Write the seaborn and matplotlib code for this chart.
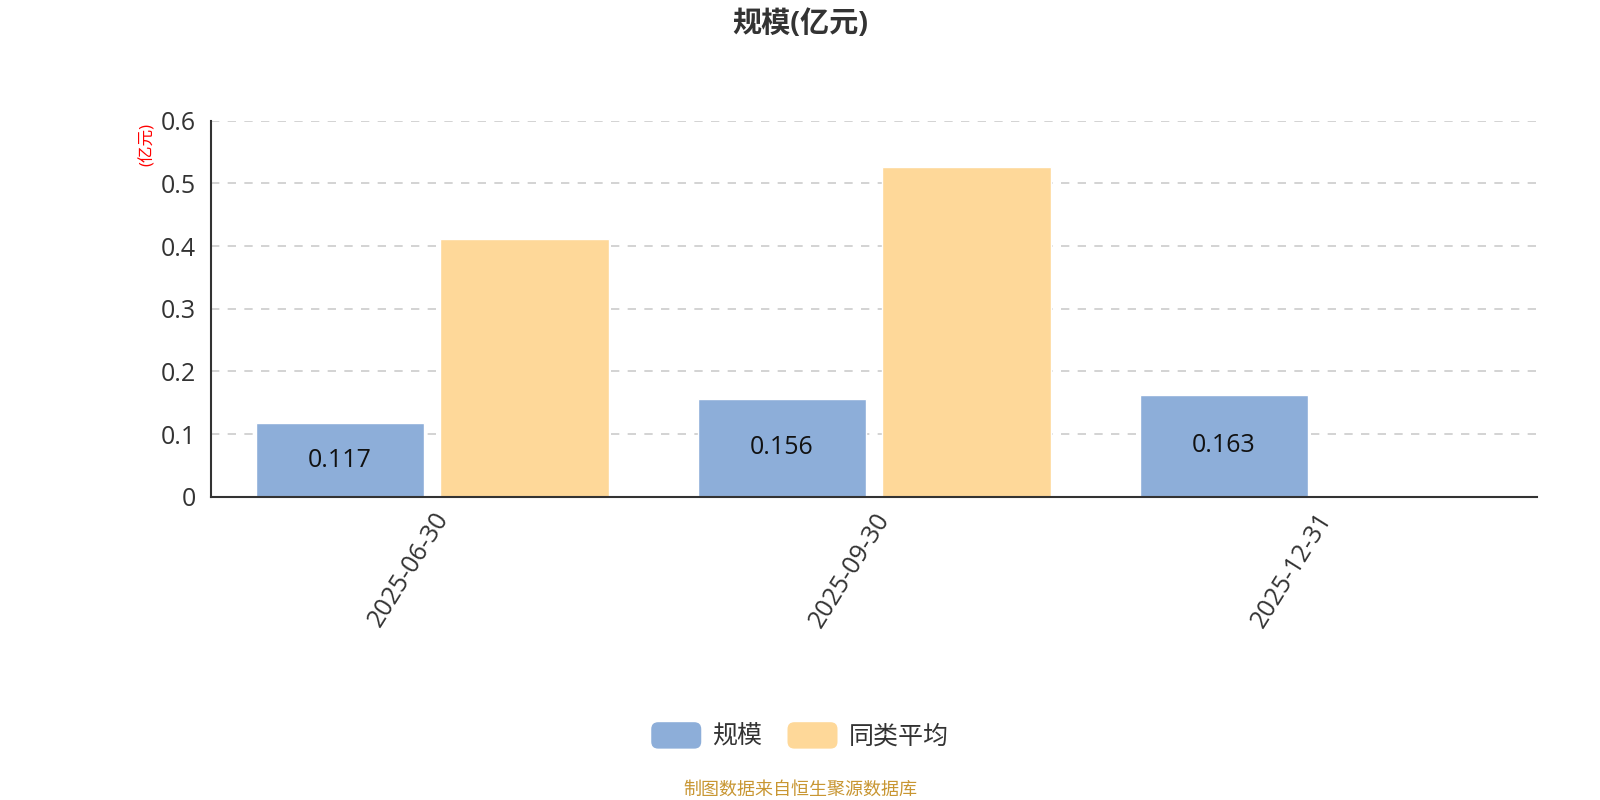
import pandas as pd
import matplotlib
matplotlib.use("Agg")
import matplotlib.pyplot as plt
from matplotlib.patches import FancyBboxPatch
from matplotlib.legend_handler import HandlerPatch
import seaborn as sns

# data
dates = ["2025-06-30", "2025-09-30", "2025-12-31"]
scale_values = [0.117, 0.156, 0.163]
peer_avg_values = [0.412, 0.527]  # no peer average for the last date
series_names = ["规模", "同类平均"]
colors = ["#8daed9", "#fed899"]
y_ticks = [0, 0.1, 0.2, 0.3, 0.4, 0.5, 0.6]
y_tick_labels = ["0", "0.1", "0.2", "0.3", "0.4", "0.5", "0.6"]

rows = []
for d, v in zip(dates, scale_values):
    rows.append({"date": d, "series": series_names[0], "value": v})
for d, v in zip(dates, peer_avg_values):
    rows.append({"date": d, "series": series_names[1], "value": v})
df = pd.DataFrame(rows)

sns.set_style("white")
plt.rcParams["font.family"] = ["Open Sans", "Noto Sans CJK SC", "DejaVu Sans"]

fig = plt.figure(figsize=(16, 8), dpi=100)
ax = fig.add_axes([0.132, 0.379, 0.8287, 0.47])

sns.barplot(data=df, x="date", y="value", hue="series", order=dates,
            hue_order=series_names, palette=colors,
            width=0.836, gap=0.088, saturation=1, ax=ax, legend=False)

# value labels only on the 规模 bars
ax.bar_label(ax.containers[0], labels=[f"{v:.3f}" for v in scale_values],
             label_type="center", fontsize=18, color="#111111")

ax.set_ylim(0, 0.6)
ax.set_xlim(-0.5, 2.5)
ax.set_yticks(y_ticks)
ax.set_yticklabels(y_tick_labels, fontsize=18, color="#333333")
ax.set_xticks(range(len(dates)))
ax.set_xticklabels(dates, rotation=58, ha="right", rotation_mode="anchor",
                   fontsize=18, color="#333333")
ax.set_xlabel("")
ax.set_ylabel("")
ax.yaxis.grid(True, linestyle=(0, (5, 5)), color="#cccccc", linewidth=1.2)
ax.set_axisbelow(True)
for s in ["top", "right"]:
    ax.spines[s].set_visible(False)
ax.spines["left"].set_color("#333333")
ax.spines["bottom"].set_color("#333333")
ax.spines["left"].set_linewidth(1.5)
ax.spines["bottom"].set_linewidth(1.5)
# ticks between categories, like the original
ax.set_xticks([-0.5, 0.5, 1.5, 2.5], minor=True)
ax.tick_params(axis="x", which="major", length=0, pad=8)
ax.tick_params(axis="x", which="minor", length=6, width=1.5, color="#333333")
ax.tick_params(axis="y", length=6, width=1.5, color="#333333", pad=5)

fig.text(0.5, 0.97, "规模(亿元)", ha="center", va="center",
         fontsize=21, fontweight="bold", color="#333333")
fig.text(0.0925, 0.82, "(亿元)", rotation=90, ha="center", va="center",
         fontsize=12, color="red")


# rounded legend keys
class RoundHandler(HandlerPatch):
    def create_artists(self, legend, orig_handle, xdescent, ydescent,
                       width, height, fontsize, trans):
        p = FancyBboxPatch((-xdescent, -ydescent), width, height,
                           boxstyle="round,pad=0,rounding_size=5",
                           facecolor=orig_handle.get_facecolor(),
                           edgecolor="none", transform=trans)
        return [p]


handles = [plt.Rectangle((0, 0), 1, 1, facecolor=c) for c in colors]
fig.legend(handles, series_names, loc="center", bbox_to_anchor=(0.5, 0.08),
           ncol=2, frameon=False, fontsize=18, handlelength=2.0,
           handleheight=1.25, columnspacing=1.0, handletextpad=0.45,
           labelcolor="#333333",
           handler_map={plt.Rectangle: RoundHandler()})

fig.text(0.5, 0.013, "制图数据来自恒生聚源数据库", ha="center", va="center",
         fontsize=13, color="#c89632")

fig.savefig("out.png", dpi=100)
